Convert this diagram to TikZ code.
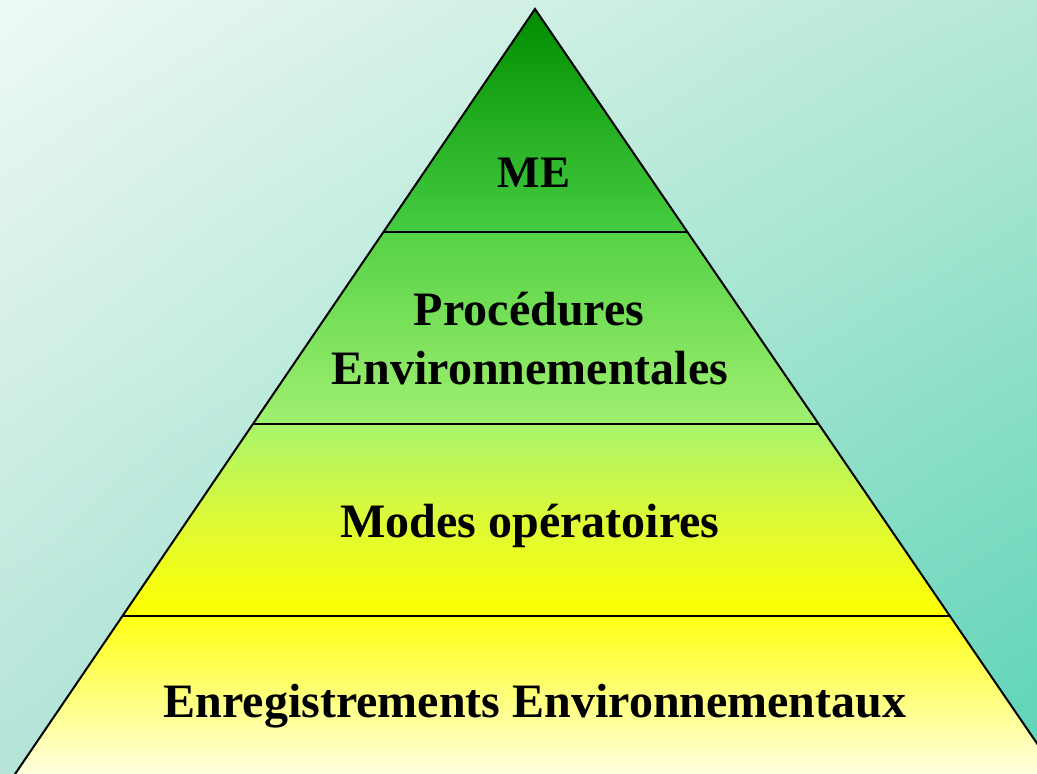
\documentclass[tikz,border=0pt]{standalone}
\usepackage{fontspec}
\setmainfont{Liberation Serif}
\usetikzlibrary{shadings}
\definecolor{bgUL}{RGB}{238,249,244}
\definecolor{bgUR}{RGB}{182,232,214}
\definecolor{bgLL}{RGB}{180,228,216}
\definecolor{bgLR}{RGB}{92,212,182}
\definecolor{gA}{RGB}{0,140,0}
\definecolor{gB}{RGB}{70,205,65}
\definecolor{gC}{RGB}{85,210,70}
\definecolor{gD}{RGB}{160,240,112}
\definecolor{gE}{RGB}{168,244,108}
\definecolor{gM}{RGB}{222,250,55}
\definecolor{yA}{RGB}{255,255,0}
\definecolor{yB}{RGB}{255,255,20}
\definecolor{yC}{RGB}{255,255,232}
\tikzset{
  tierline/.style={line width=2pt, black},
  label/.style={font=\bfseries\fontsize{48}{58}\selectfont, text=black, inner sep=0pt, anchor=base},
}
\begin{document}
\begin{tikzpicture}[x=1pt,y=-1pt]
\useasboundingbox (0,0) rectangle (1037,774);
\shade[upper left=bgUL, upper right=bgUR, lower left=bgLL, lower right=bgLR] (0,0) rectangle (1037,774);
% pyramid points
\coordinate (A) at (535,9);
\coordinate (L1) at (383.4,232);  \coordinate (R1) at (687.5,232);
\coordinate (L2) at (252.8,424);  \coordinate (R2) at (818.9,424);
\coordinate (L3) at (122.2,616);  \coordinate (R3) at (950.2,616);
\coordinate (L4) at (11,780);     \coordinate (R4) at (1062,780);
\begin{scope}
\clip (0,0) rectangle (1037,774);
\shade[top color=gA, bottom color=gB] (A) -- (R1) -- (L1) -- cycle;
\shade[top color=gC, bottom color=gD] (L1) -- (R1) -- (R2) -- (L2) -- cycle;
\shade[top color=gE, bottom color=yA, middle color=gM] (L2) -- (R2) -- (R3) -- (L3) -- cycle;
\shade[top color=yB, bottom color=yC] (L3) -- (R3) -- (R4) -- (L4) -- cycle;
\draw[tierline] (L4) -- (A) -- (R4);
\draw[tierline] (L1) -- (R1);
\draw[tierline] (L2) -- (R2);
\draw[tierline] (L3) -- (R3);
\end{scope}
\node[label, font=\bfseries\fontsize{45}{54}\selectfont] (me) at (534,187) {ME};
\node[label] (proc) at (529,325) {Procédures};
\node[label] (env) at (530,384) {Environnementales};
\node[label] (modes) at (530,537) {Modes opératoires};
\node[label] (enreg) at (535,717) {Enregistrements Environnementaux};
\end{tikzpicture}
\end{document}
